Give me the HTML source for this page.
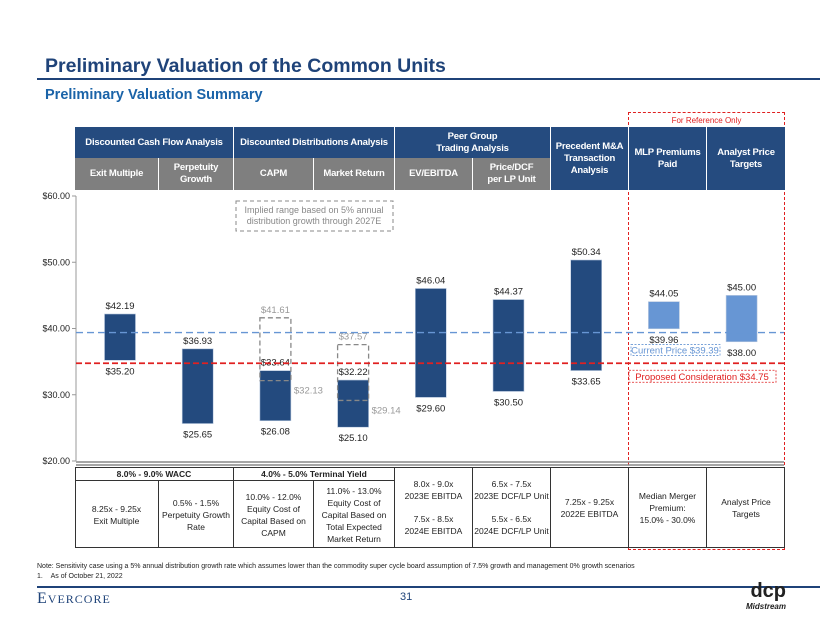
<!DOCTYPE html>
<html><head><meta charset="utf-8"><style>
body{margin:0;width:820px;height:634px;background:#fff;font-family:"Liberation Sans",Arial,sans-serif;position:relative;overflow:hidden}
.a{position:absolute}
.hc{position:absolute;display:flex;align-items:center;justify-content:center;text-align:center;color:#fff;font-weight:bold;font-size:9.5px;letter-spacing:-0.2px;line-height:12px;box-sizing:border-box}
.blue{background:#254b7f}.gray{background:#7f7f7f}
.tc{position:absolute;display:flex;align-items:center;justify-content:center;text-align:center;font-size:8.5px;line-height:12px;color:#222;box-sizing:border-box;border-right:1px solid #333}
</style></head><body>
<div class="a" style="left:45px;top:55px;font-size:19.5px;font-weight:bold;color:#1f4379">Preliminary Valuation of the Common Units</div>
<div class="a" style="left:37px;top:78px;width:783px;height:2px;background:#1f4379"></div>
<div class="a" style="left:45px;top:87px;font-size:14.5px;font-weight:bold;color:#1a63a8">Preliminary Valuation Summary</div>
<div class="a" style="left:628px;top:112px;width:157px;height:438px;border:1px dashed #e02020;box-sizing:border-box"></div>
<div class="a" style="left:628px;top:116px;width:157px;text-align:center;font-size:8px;color:#e02020">For Reference Only</div>

<div class="hc blue" style="left:75px;top:127px;width:159px;height:31px;border-right:1px solid #fff">Discounted Cash Flow Analysis</div>
<div class="hc blue" style="left:234px;top:127px;width:161px;height:31px;border-right:1px solid #fff;white-space:nowrap">Discounted Distributions Analysis</div>
<div class="hc blue" style="left:395px;top:127px;width:156px;height:31px;border-right:1px solid #fff">Peer Group<br>Trading Analysis</div>
<div class="hc blue" style="left:551px;top:127px;width:78px;height:63px;border-right:1px solid #fff">Precedent M&amp;A Transaction Analysis</div>
<div class="hc blue" style="left:629px;top:127px;width:78px;height:63px;border-right:1px solid #fff">MLP Premiums Paid</div>
<div class="hc blue" style="left:707px;top:127px;width:78px;height:63px">Analyst Price Targets</div>
<div class="hc gray" style="left:75px;top:158px;width:84px;height:32px;border-right:1px solid #fff">Exit Multiple</div>
<div class="hc gray" style="left:159px;top:158px;width:75px;height:32px;border-right:1px solid #fff">Perpetuity Growth</div>
<div class="hc gray" style="left:234px;top:158px;width:80px;height:32px;border-right:1px solid #fff">CAPM</div>
<div class="hc gray" style="left:314px;top:158px;width:81px;height:32px;border-right:1px solid #fff">Market Return</div>
<div class="hc gray" style="left:395px;top:158px;width:78px;height:32px;border-right:1px solid #fff">EV/EBITDA</div>
<div class="hc gray" style="left:473px;top:158px;width:78px;height:32px;border-right:1px solid #fff">Price/DCF<br>per LP Unit</div>

<svg class="a" style="left:0;top:0" width="820" height="634" id="chart"></svg>

<div class="a" style="left:75px;top:467px;width:710px;height:81px;border:1px solid #333;box-sizing:border-box"></div>
<div class="tc" style="left:75px;top:467px;width:159px;height:14px;border-bottom:1px solid #333;font-weight:bold">8.0% - 9.0% WACC</div>
<div class="tc" style="left:234px;top:467px;width:161px;height:14px;border-bottom:1px solid #333;font-weight:bold">4.0% - 5.0% Terminal Yield</div>
<div class="tc" style="left:75px;top:481px;width:84px;height:67px">8.25x - 9.25x<br>Exit Multiple</div>
<div class="tc" style="left:159px;top:481px;width:75px;height:67px">0.5% - 1.5%<br>Perpetuity Growth Rate</div>
<div class="tc" style="left:234px;top:481px;width:80px;height:67px">10.0% - 12.0%<br>Equity Cost of Capital Based on CAPM</div>
<div class="tc" style="left:314px;top:481px;width:81px;height:67px">11.0% - 13.0%<br>Equity Cost of Capital Based on Total Expected Market Return</div>
<div class="tc" style="left:395px;top:467px;width:78px;height:81px;justify-content:space-evenly;flex-direction:column"><span>8.0x - 9.0x<br>2023E EBITDA</span><span>7.5x - 8.5x<br>2024E EBITDA</span></div>
<div class="tc" style="left:473px;top:467px;width:78px;height:81px;justify-content:space-evenly;flex-direction:column"><span>6.5x - 7.5x<br>2023E DCF/LP Unit</span><span>5.5x - 6.5x<br>2024E DCF/LP Unit</span></div>
<div class="tc" style="left:551px;top:467px;width:78px;height:81px">7.25x - 9.25x<br>2022E EBITDA</div>
<div class="tc" style="left:629px;top:467px;width:78px;height:81px">Median Merger Premium:<br>15.0% - 30.0%</div>
<div class="tc" style="left:707px;top:467px;width:78px;height:81px;border-right:none">Analyst Price Targets</div>

<div class="a" style="left:37px;top:562px;font-size:7px;color:#222;line-height:10px">Note: Sensitivity case using a 5% annual distribution growth rate which assumes lower than the commodity super cycle board assumption of 7.5% growth and management 0% growth scenarios<br>1.&nbsp;&nbsp;&nbsp;&nbsp;As of October 21, 2022</div>
<div class="a" style="left:37px;top:586px;width:783px;height:2px;background:#1f4379"></div>
<div class="a" style="left:37px;top:590px;font-family:'Liberation Serif',serif;font-size:16px;color:#1f4379;letter-spacing:1px">E<span style="font-size:12px">VERCORE</span></div>
<div class="a" style="left:400px;top:591px;font-size:11px;color:#1f4379">31</div>
<div class="a" style="left:726px;top:585px;width:60px;text-align:right;line-height:12px"><span style="font-size:20px;font-weight:bold;color:#222">dcp</span><br><span style="font-size:8px;font-weight:bold;font-style:italic;color:#222">Midstream</span></div>

<script>
const categories=["Exit Multiple","Perpetuity Growth","CAPM","Market Return","EV/EBITDA","Price/DCF","Precedent M&A","MLP Premiums","Analyst Targets"];
const lows=[35.20,25.65,26.08,25.10,29.60,30.50,33.65,39.96,38.00];
const highs=[42.19,36.93,33.64,32.22,46.04,44.37,50.34,44.05,45.00];
const lightBars=[false,false,false,false,false,false,false,true,true];
const rangeIdx=[2,3];
const rangeLows=[32.13,29.14];
const rangeHighs=[41.61,37.57];
const yTicks=[20,30,40,50,60];
const currentPrice=39.39;
const proposed=34.75;
const ns="http://www.w3.org/2000/svg";
const svg=document.getElementById('chart');
function y(v){return 461-(v-20)*6.625;}
function x(i){return 120+i*77.7;}
function mk(t,a,txt){const e=document.createElementNS(ns,t);for(const k in a)e.setAttribute(k,a[k]);if(txt!==undefined)e.textContent=txt;svg.appendChild(e);return e;}
const ax=mk('line',{x1:76,y1:196,x2:76,y2:461,stroke:'#999','stroke-width':1});


yTicks.forEach(t=>{
  const tk=mk('line',{x1:72,x2:76,y1:y(t),y2:y(t),stroke:'#999'});
  
  
  const l=mk('text',{x:70,y:y(t)+3,'text-anchor':'end','font-size':9,fill:'#222'},'$'+t.toFixed(2));
  
  
});
const b1=mk('line',{x1:76,x2:784,y1:462,y2:462,stroke:'#888','stroke-width':1.5});


const b2=mk('line',{x1:76,x2:784,y1:465,y2:465,stroke:'#888','stroke-width':1.5});


const nb=mk('rect',{x:236,y:201,width:157,height:30,fill:'none',stroke:'#888','stroke-dasharray':'4,3'});


const nt=mk('text',{x:314,y:213,'text-anchor':'middle','font-size':9,fill:'#888'},'Implied range based on 5% annual');


const nt2=mk('text',{x:314,y:224,'text-anchor':'middle','font-size':9,fill:'#888'},'distribution growth through 2027E');


const W=31;
categories.forEach((c,i)=>{
  const r=mk('rect',{x:x(i)-W/2,y:y(highs[i]),width:W,height:y(lows[i])-y(highs[i]),fill:lightBars[i]?'#6796d4':'#234a7e',stroke:'#b9c9df','stroke-width':0.6});
  
  
  const tl=mk('text',{x:x(i),y:y(highs[i])-5,'text-anchor':'middle','font-size':9.5,fill:'#222'},'$'+highs[i].toFixed(2));
  
  
  const bl=mk('text',{x:x(i),y:y(lows[i])+14,'text-anchor':'middle','font-size':9.5,fill:'#222'},'$'+lows[i].toFixed(2));
  
  
});
rangeIdx.forEach((i,k)=>{
  const r=mk('rect',{x:x(i)-W/2,y:y(rangeHighs[k]),width:W,height:y(rangeLows[k])-y(rangeHighs[k]),fill:'none',stroke:'#888','stroke-width':1.3,'stroke-dasharray':'5,3'});
  
  
  const t=mk('text',{x:x(i),y:y(rangeHighs[k])-5,'text-anchor':'middle','font-size':9.5,fill:'#999'},'$'+rangeHighs[k].toFixed(2));
  
  
  const b=mk('text',{x:x(i)+W/2+3,y:y(rangeLows[k])+13,'font-size':9.5,fill:'#999'},'$'+rangeLows[k].toFixed(2));
  
  
});
const cp=mk('line',{x1:76,x2:784,y1:y(currentPrice),y2:y(currentPrice),stroke:'#6796d4','stroke-width':1.3,'stroke-dasharray':'7,4'});


const pp=mk('line',{x1:76,x2:784,y1:y(proposed),y2:y(proposed),stroke:'#e02020','stroke-width':1.8,'stroke-dasharray':'6,3'});


const cb=mk('rect',{x:631,y:y(currentPrice)+12,width:89,height:11,fill:'#fff',stroke:'#6796d4','stroke-dasharray':'2,1.5','stroke-width':0.8});


const ct=mk('text',{x:675,y:y(currentPrice)+21,'text-anchor':'middle','font-size':9.5,fill:'#6796d4'},'Current Price $'+currentPrice.toFixed(2));


const pb=mk('rect',{x:629,y:y(proposed)+7,width:147,height:12,fill:'#fff',stroke:'#e02020','stroke-dasharray':'2,1.5','stroke-width':0.8});


const pt=mk('text',{x:702,y:y(proposed)+16.5,'text-anchor':'middle','font-size':9.5,fill:'#e02020'},'Proposed Consideration $'+proposed.toFixed(2));


</script>
</body></html>
